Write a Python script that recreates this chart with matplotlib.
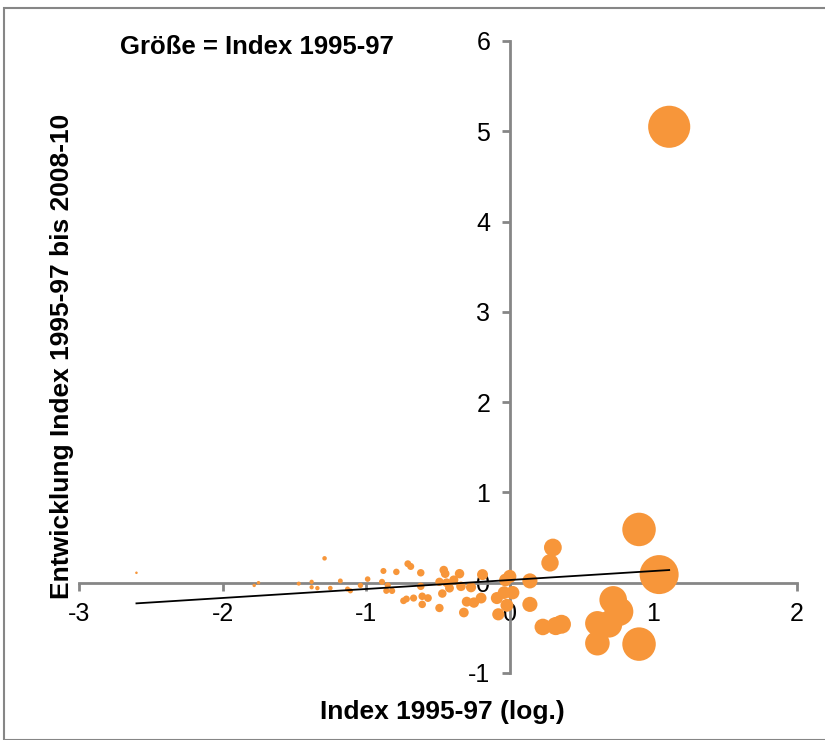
import numpy as np
import matplotlib
matplotlib.use("Agg")
import matplotlib.pyplot as plt
from matplotlib.patches import Rectangle

plt.rcParams['font.family'] = ['Liberation Sans', 'DejaVu Sans']

# Index 1995-97 (log.)  and  Entwicklung Index 1995-97 bis 2008-10
x_vals = [-2.60, -1.78, -1.75, -1.47, -1.38, -1.38, -1.34, -1.29, -1.25, -1.18,
          -1.13, -1.11, -1.04, -0.99, -0.89, -0.88, -0.86, -0.85, -0.82, -0.79,
          -0.74, -0.72, -0.71, -0.69, -0.67, -0.62, -0.62, -0.61, -0.61, -0.57,
          -0.49, -0.49, -0.47, -0.46, -0.45, -0.44, -0.42, -0.39, -0.35, -0.34,
          -0.32, -0.30, -0.27, -0.25, -0.20, -0.19, -0.09, -0.08, -0.04, -0.03,
          -0.02, 0.00, 0.02, 0.14, 0.14, 0.28, 0.30, 0.23, 0.32, 0.36,
          0.61, 0.69, 0.72, 0.76, 0.61, 0.90, 0.90, 1.04, 1.11]
y_vals = [0.11, -0.03, 0.00, -0.01, 0.01, -0.05, -0.06, 0.27, -0.06, 0.02,
          -0.07, -0.09, -0.03, 0.04, 0.01, 0.13, -0.09, -0.03, -0.09, 0.12,
          -0.20, -0.18, 0.21, 0.18, -0.17, 0.11, -0.04, -0.15, -0.24, -0.17,
          0.01, -0.28, -0.12, 0.14, 0.10, 0.00, -0.06, 0.03, 0.10, -0.04,
          -0.33, -0.21, -0.05, -0.22, -0.17, 0.09, -0.17, -0.35, -0.11, 0.03,
          -0.25, 0.07, -0.11, 0.02, -0.24, 0.22, 0.39, -0.49, -0.48, -0.46,
          -0.45, -0.46, -0.19, -0.32, -0.67, 0.59, -0.68, 0.09, 5.05]

trend_slope = 0.0995
trend_intercept = 0.03

x_ticks = [-3, -2, -1, 0, 1, 2]
y_ticks = [-1, 0, 1, 2, 3, 4, 5, 6]

W, H, DPI = 825, 740, 100
fig = plt.figure(figsize=(W / DPI, H / DPI), dpi=DPI)
ax = fig.add_axes([79 / W, 67 / H, (797 - 79) / W, (673 - 41) / H])

x = np.array(x_vals)
y = np.array(y_vals)
index_val = 10 ** x  # bubble size = Index 1995-97
d_px = 2.0 + 37.0 * np.sqrt(index_val / index_val.max()) * np.sqrt(10 ** (1.11 - 1.04))
s = (d_px * 72 / DPI) ** 2
order = np.argsort(-s)
ax.scatter(x[order], y[order], s=s[order], color='#F7963A', edgecolors='none', zorder=3)

xl = np.array([x.min(), x.max()])
ax.plot(xl, trend_slope * xl + trend_intercept, color='black', lw=1.3, zorder=4)

ax.set_xlim(-3, 2)
ax.set_ylim(-1, 6)
ax.set_xticks(x_ticks)
ax.set_yticks(y_ticks)
ax.set_xticklabels([str(t) for t in x_ticks])
ax.set_yticklabels([str(t) for t in y_ticks])

for side in ['top', 'right']:
    ax.spines[side].set_visible(False)
ax.spines['left'].set_position(('data', 0))
ax.spines['bottom'].set_position(('data', 0))
for side in ['left', 'bottom']:
    ax.spines[side].set_color('#868686')
    ax.spines[side].set_linewidth(2.0)
ax.tick_params(axis='both', colors='#868686', width=2.0, length=6, direction='out',
               labelsize=18, labelcolor='black')
ax.tick_params(axis='x', pad=8)
ax.tick_params(axis='y', pad=8)
ax.patch.set_alpha(0)

fig.text(442 / W, 1 - 712 / H, 'Index 1995-97 (log.)', ha='center', va='center',
         fontsize=19, fontweight='bold')
fig.text(62 / W, 1 - 356 / H, 'Entwicklung Index 1995-97 bis 2008-10', ha='center',
         va='center', rotation=90, fontsize=19, fontweight='bold')
fig.text(257 / W, 1 - 47 / H, 'Größe = Index 1995-97', ha='center', va='center',
         fontsize=18.5, fontweight='bold')

fig.patches.append(Rectangle((4 / W, 0), 1.0, 1 - 8 / H, transform=fig.transFigure,
                             fill=False, edgecolor='#868686', lw=1.5))

fig.savefig('out.png', dpi=DPI)
